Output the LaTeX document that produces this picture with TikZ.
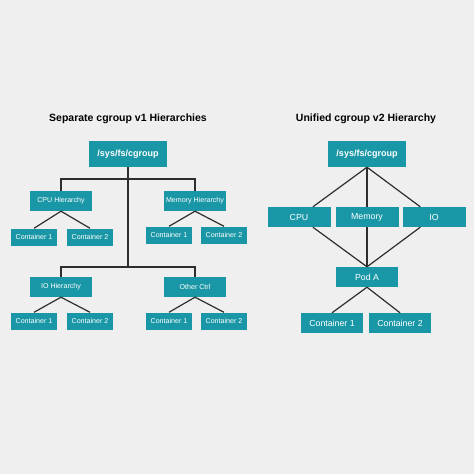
\documentclass[tikz,border=0pt]{standalone}
\usepackage{fontspec}
\setmainfont{Liberation Sans}
\definecolor{teal1}{HTML}{1A97A6}
\definecolor{bg}{HTML}{EFEFEF}
\definecolor{wire}{HTML}{2E2E2E}
\tikzset{
    box/.style={fill=teal1,text=white,inner sep=0pt,align=center},
    link/.style={draw=wire,line width=1.2pt},
    title/.style={font=\fontsize{10.5}{12}\selectfont\bfseries,text=black}
}

\begin{document}
\begin{tikzpicture}[
    x=1pt,y=-1pt,
    root/.style={box,minimum width=78,minimum height=26,font=\fontsize{9}{10}\selectfont\bfseries},
    hier/.style={box,minimum width=62,minimum height=20,font=\fontsize{7.1}{8}\selectfont},
    cont/.style={box,minimum width=46,minimum height=17,font=\fontsize{7.1}{8}\selectfont},
    ctrl/.style={box,minimum width=63,minimum height=20,font=\fontsize{8.8}{10}\selectfont}
]
% Nền
\fill[bg] (0,0) rectangle (474,474);

% Bên trái: cgroup v1
\node[title] (T1) at (128,119) {Separate cgroup v1 Hierarchies};
\node[root] (R1) at (128,154) {/sys/fs/cgroup};

\node[hier] (CPUH) at (61,201) {CPU Hierarchy};
\node[hier] (MEMH) at (195,201) {Memory Hierarchy};
\node[hier] (IOH) at (61,287) {IO Hierarchy};
\node[hier] (OTH) at (195,287) {Other Ctrl};

\node[cont] (C11) at (34,237) {Container 1};
\node[cont] (C12) at (90,237) {Container 2};
\node[cont] (C21) at (169,235) {Container 1};
\node[cont] (C22) at (224,235) {Container 2};
\node[cont] (C31) at (34,321) {Container 1};
\node[cont] (C32) at (90,321) {Container 2};
\node[cont] (C41) at (169,321) {Container 1};
\node[cont] (C42) at (224,321) {Container 2};

% Các điểm nối của thanh ngang
\coordinate (J1) at (128,179);
\coordinate (J2) at (128,267);

\draw[link] (R1.south) -- (J1) -- (J2);
\draw[link] (J1) -| (CPUH.north);
\draw[link] (J1) -| (MEMH.north);
\draw[link] (J2) -| (IOH.north);
\draw[link] (J2) -| (OTH.north);

\draw[link] (CPUH.south) -- (C11.north);
\draw[link] (CPUH.south) -- (C12.north);
\draw[link] (MEMH.south) -- (C21.north);
\draw[link] (MEMH.south) -- (C22.north);
\draw[link] (IOH.south) -- (C31.north);
\draw[link] (IOH.south) -- (C32.north);
\draw[link] (OTH.south) -- (C41.north);
\draw[link] (OTH.south) -- (C42.north);

% Bên phải: cgroup v2
\node[title] (T2) at (366,119) {Unified cgroup v2 Hierarchy};
\node[root] (R2) at (367,154) {/sys/fs/cgroup};

\node[ctrl] (CPU) at (299,217) {CPU};
\node[ctrl] (MEM) at (367,217) {Memory};
\node[ctrl] (IO) at (434,217) {IO};

\node[ctrl,minimum width=62] (POD) at (367,277) {Pod A};

\node[ctrl,minimum width=62] (P1) at (332,323) {Container 1};
\node[ctrl,minimum width=62] (P2) at (400,323) {Container 2};

\draw[link] (R2.south) -- (CPU);
\draw[link] (R2.south) -- (MEM.north);
\draw[link] (R2.south) -- (IO);

\draw[link] (CPU) -- (POD.north);
\draw[link] (MEM.south) -- (POD.north);
\draw[link] (IO) -- (POD.north);

\draw[link] (POD.south) -- (P1.north);
\draw[link] (POD.south) -- (P2.north);
\end{tikzpicture}
\end{document}
